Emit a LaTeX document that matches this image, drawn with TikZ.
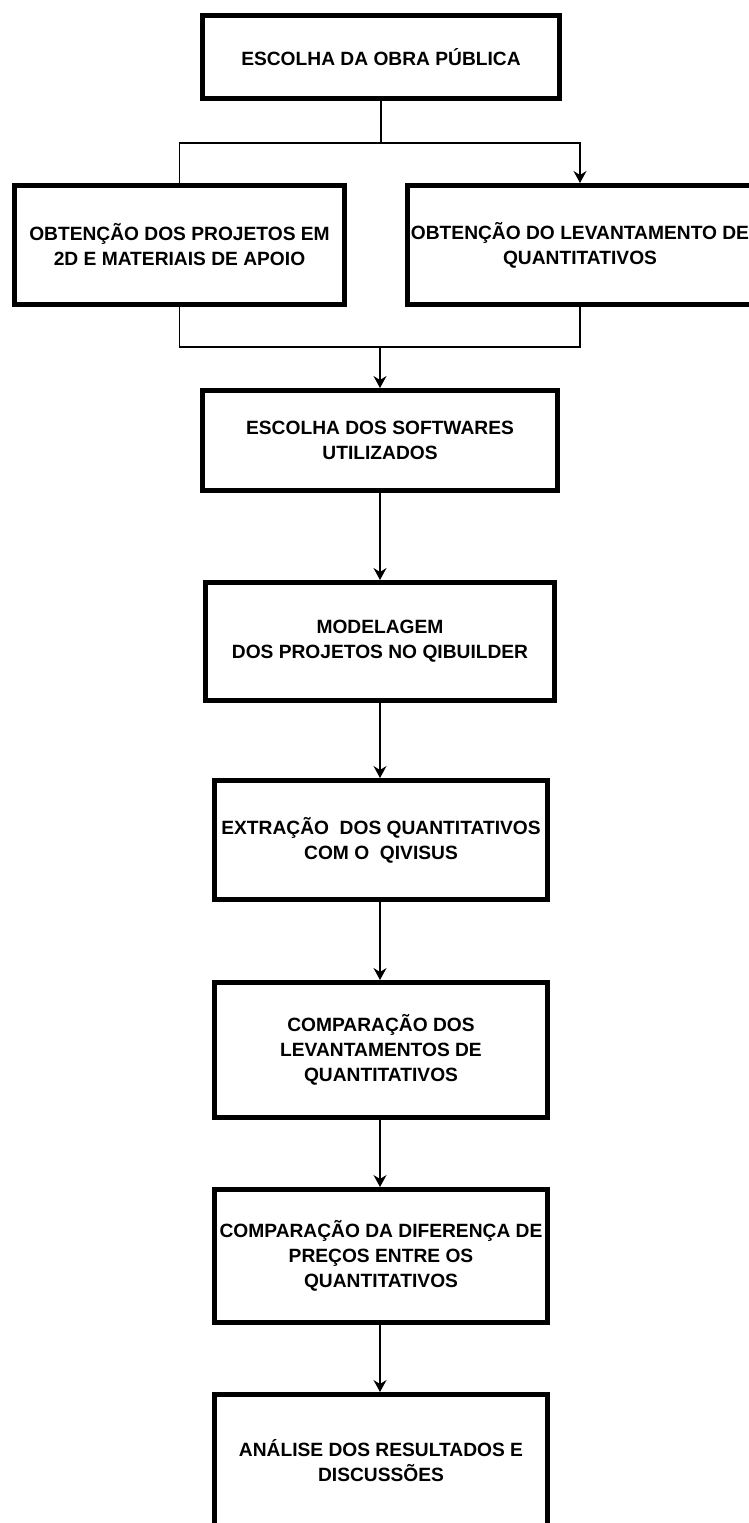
\documentclass[tikz,border=0pt]{standalone}
\usepackage{fontspec}
\setmainfont{Liberation Sans}
\usetikzlibrary{arrows.meta}

\tikzset{
  etapa/.style={draw, line width=5pt, align=center, inner sep=0pt,
    font=\fontsize{19.2}{25}\selectfont\bfseries},
  seta/.style={line width=1.3pt, -{Stealth[length=12pt,width=13pt,inset=4pt]}},
  liga/.style={line width=1.3pt}
}

\begin{document}
\begin{tikzpicture}[x=1pt,y=-1pt]
\useasboundingbox (0,0) rectangle (748,1523);
% Etapa inicial
\node[etapa, minimum width=357pt, minimum height=83pt] (obra) at (381,57) {ESCOLHA DA OBRA PÚBLICA};
% Etapas em paralelo
\node[etapa, minimum width=330pt, minimum height=119pt] (projetos) at (179.5,245) {OBTENÇÃO DOS PROJETOS EM\\2D E MATERIAIS DE APOIO};
\node[etapa, minimum width=345pt, minimum height=119pt] (levantamento) at (580,245) {OBTENÇÃO DO LEVANTAMENTO DE\\QUANTITATIVOS};
% Sequencia principal
\node[etapa, minimum width=355pt, minimum height=100pt] (softwares) at (380,440.5) {ESCOLHA DOS SOFTWARES\\UTILIZADOS};
\node[etapa, minimum width=349pt, minimum height=118pt] (modelagem) at (380,641.5) {MODELAGEM\\DOS PROJETOS NO QIBUILDER};
\node[etapa, minimum width=333pt, minimum height=119pt] (extracao) at (381,840) {EXTRAÇÃO~~DOS QUANTITATIVOS\\COM O~~QIVISUS};
\node[etapa, minimum width=333pt, minimum height=135pt] (compquant) at (381,1050) {COMPARAÇÃO DOS\\LEVANTAMENTOS DE\\QUANTITATIVOS};
\node[etapa, minimum width=333pt, minimum height=133pt] (compprecos) at (381,1256) {COMPARAÇÃO DA DIFERENÇA DE\\PREÇOS ENTRE OS\\QUANTITATIVOS};
\node[etapa, minimum width=333pt, minimum height=132pt] (analise) at (381,1460.5) {ANÁLISE DOS RESULTADOS E\\DISCUSSÕES};
% Pontos de divisao e juncao
\coordinate (divide) at (381,143);
\coordinate (junta) at (380,347);
% Ligacoes
\draw[liga] (obra.south) -- (divide) -| (projetos.north);
\draw[seta] (divide) -| (levantamento.north);
\draw[liga] (projetos.south) |- (levantamento.south |- junta) -- (levantamento.south);
\draw[seta] (junta) -- (softwares.north -| junta);
\draw[seta] (softwares.south) -- (modelagem.north -| softwares.south);
\draw[seta] (modelagem.south) -- (extracao.north -| modelagem.south);
\draw[seta] (extracao.south -| modelagem.south) -- (compquant.north -| modelagem.south);
\draw[seta] (compquant.south -| modelagem.south) -- (compprecos.north -| modelagem.south);
\draw[seta] (compprecos.south -| modelagem.south) -- (analise.north -| modelagem.south);
\end{tikzpicture}
\end{document}
